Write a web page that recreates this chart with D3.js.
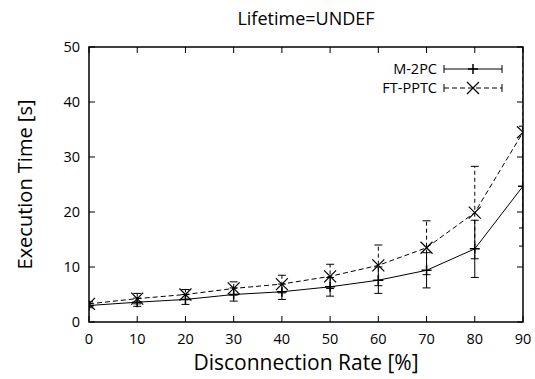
<!DOCTYPE html>
<html><head><meta charset="utf-8">
<script src="https://cdn.jsdelivr.net/npm/d3@7"></script>
<style>body{margin:0;background:#fff}svg{display:block}text{font-family:"Open Sans",sans-serif;fill:#000}</style>
</head><body><svg id="c" width="535" height="379"></svg>
<script>
const title = "Lifetime=UNDEF";
const xLabel = "Disconnection Rate [%]";
const yLabel = "Execution Time [s]";
const rates = [0,10,20,30,40,50,60,70,80,90];
const m2pc = [3.0,3.6,4.1,5.0,5.5,6.4,7.6,9.4,13.3,24.7];
const m2pcErr = [0.4,0.75,0.9,1.2,1.4,1.7,2.4,3.2,5.2,10.9];
const ftpptc = [3.3,4.25,5.0,6.1,6.9,8.3,10.3,13.5,19.9,34.5];
const ftpptcErr = [0.4,0.95,0.9,1.2,1.6,2.2,3.7,4.9,8.4,17.4];
const seriesNames = ["M-2PC","FT-PPTC"];
const xTicks = [0,10,20,30,40,50,60,70,80,90];
const yTicks = [0,10,20,30,40,50];

const svg = d3.select("#c");
const L=89, R=523, T=47, B=322;
const x = d3.scaleLinear().domain([0,90]).range([L,R]);
const y = d3.scaleLinear().domain([0,50]).range([B,T]);

svg.append("defs").append("clipPath").attr("id","clip")
  .append("rect").attr("x",L).attr("y",T).attr("width",R-L).attr("height",B-T);

const tl=6;
const g = svg.append("g");
xTicks.forEach(t=>{
  g.append("line").attr("x1",x(t)).attr("x2",x(t)).attr("y1",B).attr("y2",B-tl).attr("stroke","#000");
  g.append("line").attr("x1",x(t)).attr("x2",x(t)).attr("y1",T).attr("y2",T+tl).attr("stroke","#000");
  g.append("text").attr("x",x(t)).attr("y",B+22).attr("text-anchor","middle").attr("font-size",14.5).text(t);
});
yTicks.forEach(t=>{
  g.append("line").attr("x1",L).attr("x2",L+tl).attr("y1",y(t)).attr("y2",y(t)).attr("stroke","#000");
  g.append("line").attr("x1",R).attr("x2",R-tl).attr("y1",y(t)).attr("y2",y(t)).attr("stroke","#000");
  g.append("text").attr("x",L-9).attr("y",y(t)+5).attr("text-anchor","end").attr("font-size",14.5).text(t);
});

const series = [
  {name:seriesNames[0], vals:m2pc, err:m2pcErr, dash:null, marker:"plus"},
  {name:seriesNames[1], vals:ftpptc, err:ftpptcErr, dash:"5,3", marker:"cross"}
];
const plot = svg.append("g").attr("clip-path","url(#clip)");
const line = d3.line().x((d,i)=>x(rates[i])).y(d=>y(d));
const cap=4;
function marker(gr,cx,cy,type){
  if(type==="plus"){
    gr.append("path").attr("d",`M${cx-5},${cy}H${cx+5}M${cx},${cy-5}V${cy+5}`).attr("stroke","#000").attr("stroke-width",1.5);
  } else {
    gr.append("path").attr("d",`M${cx-6},${cy-6}L${cx+6},${cy+6}M${cx-6},${cy+6}L${cx+6},${cy-6}`).attr("stroke","#000").attr("stroke-width",1.2);
  }
}
series.forEach(s=>{
  plot.append("path").datum(s.vals).attr("d",line).attr("fill","none").attr("stroke","#000")
    .attr("stroke-width",1).attr("stroke-dasharray",s.dash);
  s.vals.forEach((v,i)=>{
    const cx=x(rates[i]), lo=y(v-s.err[i]), hi=y(v+s.err[i]);
    plot.append("line").attr("x1",cx).attr("x2",cx).attr("y1",lo).attr("y2",hi).attr("stroke","#000").attr("stroke-width",1).attr("stroke-dasharray",s.dash?"4,3":null);
    plot.append("line").attr("x1",cx-cap).attr("x2",cx+cap).attr("y1",lo).attr("y2",lo).attr("stroke","#000");
    plot.append("line").attr("x1",cx-cap).attr("x2",cx+cap).attr("y1",hi).attr("y2",hi).attr("stroke","#000");
    marker(plot,cx,y(v),s.marker);
  });
});

svg.append("rect").attr("x",L).attr("y",T).attr("width",R-L).attr("height",B-T)
  .attr("fill","none").attr("stroke","#000").attr("stroke-width",1.5);

series.forEach((s,i)=>{
  const ly=69+i*19, lx1=444, lx2=502;
  svg.append("text").attr("x",437).attr("y",ly+5).attr("text-anchor","end").attr("font-size",14.5).text(s.name);
  svg.append("line").attr("x1",lx1).attr("x2",lx2).attr("y1",ly).attr("y2",ly).attr("stroke","#000").attr("stroke-dasharray",s.dash);
  svg.append("line").attr("x1",lx1).attr("x2",lx1).attr("y1",ly-4).attr("y2",ly+4).attr("stroke","#000");
  svg.append("line").attr("x1",lx2).attr("x2",lx2).attr("y1",ly-4).attr("y2",ly+4).attr("stroke","#000");
  marker(svg,(lx1+lx2)/2,ly,s.marker);
});

svg.append("text").attr("x",306).attr("y",25).attr("text-anchor","middle").attr("font-size",18).text(title);
svg.append("text").attr("x",306).attr("y",370).attr("text-anchor","middle").attr("font-size",21).text(xLabel);
svg.append("text").attr("transform",`translate(32,${(T+B)/2}) rotate(-90)`).attr("text-anchor","middle").attr("font-size",20).text(yLabel);
</script></body></html>
